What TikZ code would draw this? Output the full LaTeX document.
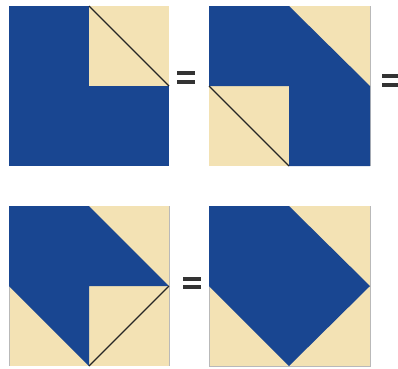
\documentclass[tikz,border=0pt]{standalone}
\definecolor{qblue}{RGB}{25,70,145}
\definecolor{qbeige}{RGB}{243,226,180}
\definecolor{qedge}{RGB}{185,185,185}
\tikzset{
  blue/.style={fill=qblue},
  beige/.style={fill=qbeige},
  seam/.style={draw=black!85,line width=1.3pt},
  eqbar/.style={fill=black!80},
  frame/.style={draw=qedge,line width=0.6pt}
}
\begin{document}
\begin{tikzpicture}[x=1pt,y=-1pt]
\useasboundingbox (0,0) rectangle (398,368);
% ---- top-left
\fill[blue] (9,6) rectangle (169,166);
\fill[beige] (89,6) rectangle (169,86);
\draw[seam] (89,6) -- (169,86);
% ---- top-right
\fill[beige] (209,6) rectangle (370,166);
\draw[frame] (370,6) -- (370,166);
\fill[blue] (209,6) -- (289,6) -- (370,86) -- (370,166) -- (289,166) -- (289,86) -- (209,86) -- cycle;
\draw[seam] (209,86) -- (289,166);
% ---- bottom-left
\fill[beige] (9,206) rectangle (169,366);
\draw[frame] (9,206) -- (9,366);
\draw[frame] (169,206) -- (169,366);
\fill[blue] (9,206) -- (89,206) -- (169,286) -- (89,286) -- (89,366) -- (9,286) -- cycle;
\draw[seam] (89,366) -- (169,286);
% ---- bottom-right
\fill[beige] (209,206) rectangle (370,366);
\draw[frame] (209,206) -- (209,366) -- (370,366) -- (370,206);
\fill[blue] (209,206) -- (289,206) -- (370,286) -- (289,366) -- (209,286) -- cycle;
% ---- equals signs
\fill[eqbar] (177,71) rectangle (195,75);
\fill[eqbar] (177,80) rectangle (195,84);
\fill[eqbar] (382,74) rectangle (398,78);
\fill[eqbar] (382,83) rectangle (398,87);
\fill[eqbar] (183,277) rectangle (201,281);
\fill[eqbar] (183,285) rectangle (201,289);
\end{tikzpicture}
\end{document}
